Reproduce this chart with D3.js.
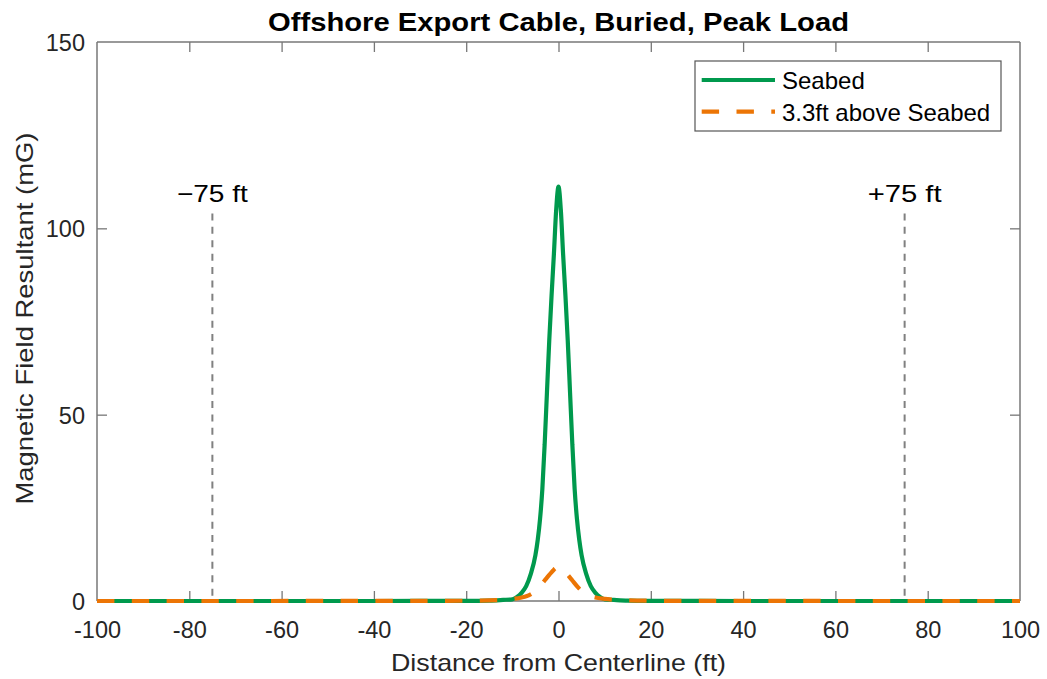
<!DOCTYPE html>
<html>
<head>
<meta charset="utf-8">
<script src="https://cdn.jsdelivr.net/npm/d3@7"></script>
<style>
  html, body { margin: 0; padding: 0; background: #fff; }
  svg { display: block; font-family: "Liberation Sans", Arial, sans-serif; }
</style>
</head>
<body>
<svg id="chart" width="1047" height="679"></svg>
<script>
// ---- Data ----
const distance = [-100, -50, -30, -20, -15, -12, -10, -9, -8, -7, -6, -5, -4.5, -4, -3.5, -3, -2.5, -2, -1.5, -1, -0.5, 0,
                  0.5, 1, 1.5, 2, 2.5, 3, 3.5, 4, 4.5, 5, 6, 7, 8, 9, 10, 12, 15, 20, 30, 50, 100];
const seabed = [0, 0, 0.02, 0.05, 0.12, 0.3, 0.45, 1.1, 2.2, 4.0, 7.3, 12.3, 16.4, 22, 30, 42, 56, 70, 82, 93, 105, 111.2,
                105, 93, 82, 70, 56, 42, 30, 22, 16.4, 12.3, 7.3, 4.0, 2.2, 1.1, 0.45, 0.3, 0.12, 0.05, 0.02, 0, 0];
const distance2 = [-100, -50, -30, -20, -15, -12, -10, -8, -7, -6, -5, -4, -3, -2, -1, -0.5, 0,
                   0.5, 1, 2, 3, 4, 5, 6, 7, 8, 10, 12, 15, 20, 30, 50, 100];
const above = [0, 0.01, 0.03, 0.08, 0.18, 0.35, 0.55, 0.95, 1.25, 1.8, 2.7, 4.0, 5.5, 7.0, 8.4, 8.9, 9.1,
               8.9, 8.4, 7.0, 5.5, 4.0, 2.7, 1.8, 1.25, 0.95, 0.55, 0.35, 0.18, 0.08, 0.03, 0.01, 0];
const xTicks = [-100, -80, -60, -40, -20, 0, 20, 40, 60, 80, 100];
const yTicks = [0, 50, 100, 150];
const markers = [-75, 75];
const markerLabels = ["\u221275 ft", "+75 ft"];
const seriesNames = ["Seabed", "3.3ft above Seabed"];
const titleText = "Offshore Export Cable, Buried, Peak Load";
const xLabel = "Distance from Centerline (ft)";
const yLabel = "Magnetic Field Resultant (mG)";

// ---- Layout ----
const L = 97, R = 1020, T = 42, B = 601;
const svg = d3.select("#chart");
const x = d3.scaleLinear().domain([-100, 100]).range([L, R]);
const y = d3.scaleLinear().domain([0, 150]).range([B, T]);

const green = "#00994d", orange = "#ec7505";
const axisColor = "#777", textColor = "#262626";
const fmt = d => String(d); // hyphen-minus like the reference

// title
svg.append("text").attr("x", (L + R) / 2).attr("y", 31).attr("text-anchor", "middle")
  .attr("font-size", 26).attr("font-weight", "bold").attr("fill", "#000")
  .attr("textLength", 581).attr("lengthAdjust", "spacingAndGlyphs").text(titleText);

// marker vertical lines
const markerWidths = [71, 74];
markers.forEach((m, i) => {
  svg.append("line").attr("x1", x(m)).attr("x2", x(m)).attr("y1", y(104)).attr("y2", y(0))
    .attr("stroke", "#808080").attr("stroke-width", 2).attr("stroke-dasharray", "7,6.4");
  svg.append("text").attr("x", x(m)).attr("y", 201.5).attr("text-anchor", "middle")
    .attr("font-size", 24).attr("fill", "#000")
    .attr("textLength", markerWidths[i]).attr("lengthAdjust", "spacingAndGlyphs").text(markerLabels[i]);
});

const lineGen = d3.line().x(d => x(d[0])).y(d => y(d[1])).curve(d3.curveMonotoneX);

// axes box
const axB = d3.axisBottom(x).tickValues(xTicks).tickSize(-10).tickPadding(20).tickFormat(fmt);
const axT = d3.axisTop(x).tickValues(xTicks).tickSize(-10).tickFormat("");
const axLft = d3.axisLeft(y).tickValues(yTicks).tickSize(-10).tickPadding(12).tickFormat(fmt);
const axRt = d3.axisRight(y).tickValues(yTicks).tickSize(-10).tickFormat("");

function style(g) {
  g.select(".domain").attr("stroke", axisColor).attr("stroke-width", 1.5);
  g.selectAll(".tick line").attr("stroke", axisColor).attr("stroke-width", 1.3);
  g.selectAll(".tick text").attr("fill", textColor).attr("font-size", 23.5)
    .attr("font-family", "Liberation Sans, Arial, sans-serif");
}
const gB = svg.append("g").attr("transform", `translate(0,${B})`).call(axB).call(style);
gB.select(".domain").attr("d", `M${L},0H${R}`);
gB.selectAll(".tick line").filter(d => d === -100 || d === 100).remove();
gB.selectAll(".tick text").attr("dy", null).attr("y", 37);
const gT = svg.append("g").attr("transform", `translate(0,${T})`).call(axT).call(style);
gT.select(".domain").attr("d", `M${L},0H${R}`);
gT.selectAll(".tick line").filter(d => d === -100 || d === 100).remove();
const gL = svg.append("g").attr("transform", `translate(${L},0)`).call(axLft).call(style);
gL.select(".domain").attr("d", `M0,${B}V${T}`);
gL.selectAll(".tick line").filter(d => d === 0 || d === 150).remove();
gL.selectAll(".tick text").attr("dy", "0.36em");
const gR = svg.append("g").attr("transform", `translate(${R},0)`).call(axRt).call(style);
gR.select(".domain").attr("d", `M0,${B}V${T}`);
gR.selectAll(".tick line").filter(d => d === 0 || d === 150).remove();

// lines (orange dashed drawn over green, as in the reference)
svg.append("path").datum(distance.map((d, i) => [d, seabed[i]]))
  .attr("d", lineGen).attr("fill", "none").attr("stroke", green).attr("stroke-width", 4.2)
  .attr("stroke-linejoin", "round");
svg.append("path").datum(distance2.map((d, i) => [d, above[i]]))
  .attr("d", lineGen).attr("fill", "none").attr("stroke", orange).attr("stroke-width", 4.2)
  .attr("stroke-dasharray", "17.4,17.4");

// axis labels
svg.append("text").attr("x", (L + R) / 2).attr("y", 671).attr("text-anchor", "middle")
  .attr("font-size", 24).attr("fill", textColor)
  .attr("textLength", 335).attr("lengthAdjust", "spacingAndGlyphs").text(xLabel);
svg.append("text").attr("transform", `translate(33,${(T + B) / 2 - 3}) rotate(-90)`)
  .attr("text-anchor", "middle").attr("font-size", 24).attr("fill", textColor)
  .attr("textLength", 372).attr("lengthAdjust", "spacingAndGlyphs").text(yLabel);

// legend
const lg = svg.append("g");
lg.append("rect").attr("x", 695).attr("y", 61).attr("width", 306).attr("height", 70)
  .attr("fill", "#fff").attr("stroke", "#555").attr("stroke-width", 1.2);
const legendColors = [green, orange];
const legendDash = [null, "17.4,17.4"];
seriesNames.forEach((name, i) => {
  const yy = 80 + i * 31.7;
  lg.append("line").attr("x1", 701.7).attr("x2", 775).attr("y1", yy).attr("y2", yy)
    .attr("stroke", legendColors[i]).attr("stroke-width", 4.2)
    .attr("stroke-dasharray", legendDash[i]);
  lg.append("text").attr("x", 782).attr("y", yy + 9).attr("font-size", 24).attr("fill", "#000").text(name);
});
</script>
</body>
</html>
